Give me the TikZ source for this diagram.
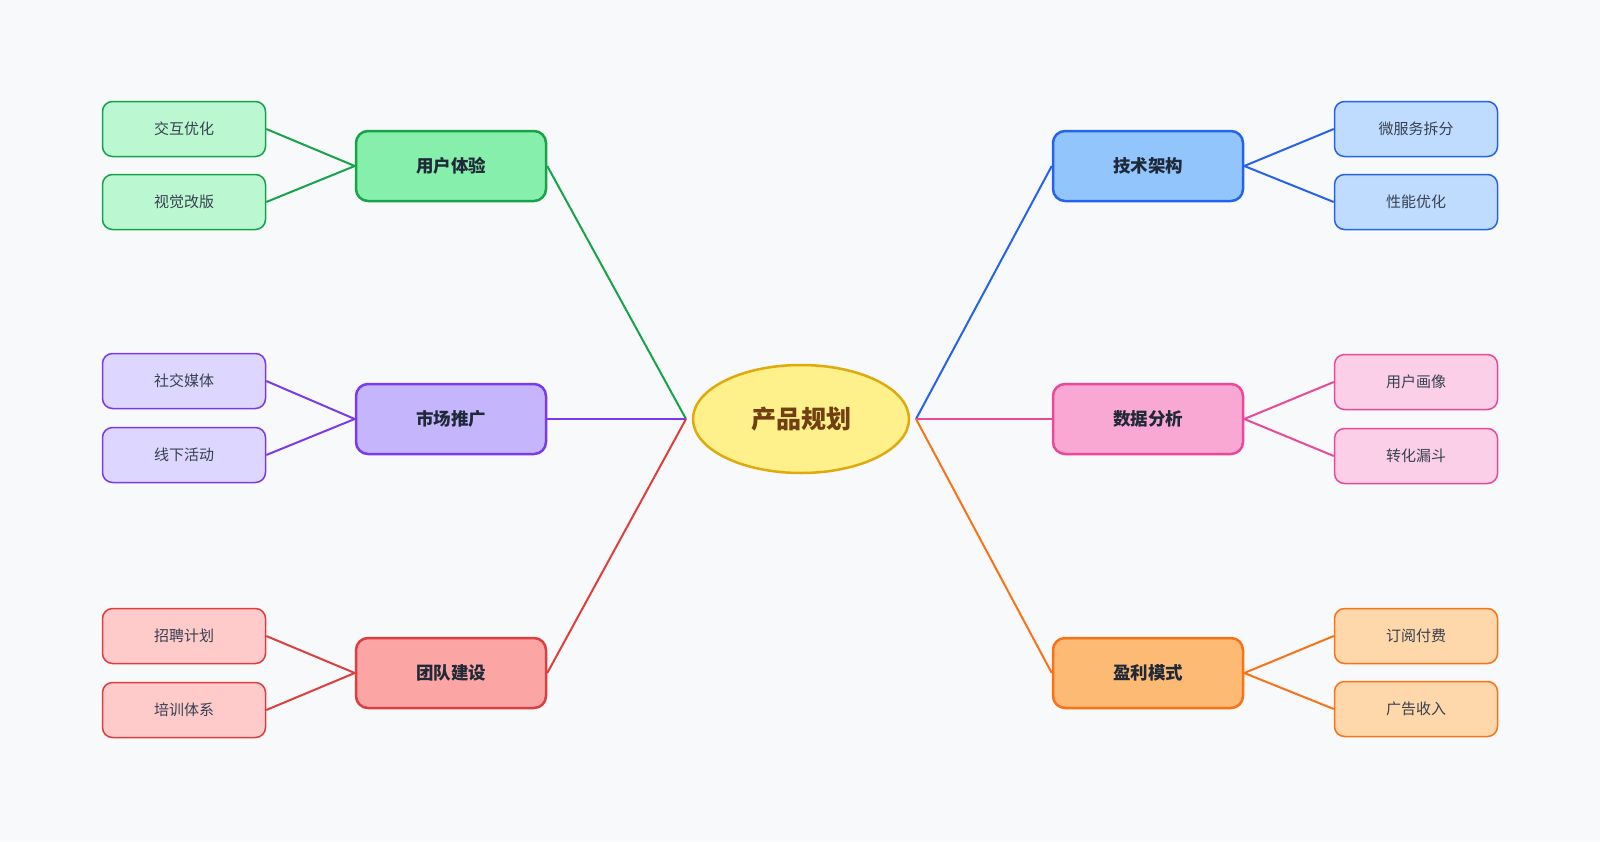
\documentclass[tikz,border=0pt]{standalone}
\usepackage{fontspec}
\setmainfont{Noto Sans CJK SC}
\usetikzlibrary{shapes.geometric}

\definecolor{bgcol}{HTML}{F8F9FA}
\definecolor{rootline}{HTML}{E0AA0C}
\definecolor{rootfill}{HTML}{FEF08A}
\definecolor{roottext}{HTML}{713F12}
\definecolor{topictext}{HTML}{1F2937}
\definecolor{leaftext}{HTML}{374151}
\definecolor{greenline}{HTML}{16A34A}
\definecolor{greenmain}{HTML}{86EFAC}
\definecolor{greenleaf}{HTML}{BBF7D0}
\definecolor{purpleline}{HTML}{7C3AED}
\definecolor{purplemain}{HTML}{C4B5FD}
\definecolor{purpleleaf}{HTML}{DDD6FE}
\definecolor{redline}{HTML}{E03E3E}
\definecolor{redmain}{HTML}{FCA5A5}
\definecolor{redleaf}{HTML}{FECACA}
\definecolor{blueline}{HTML}{2563EB}
\definecolor{bluemain}{HTML}{93C5FD}
\definecolor{blueleaf}{HTML}{BFDBFE}
\definecolor{pinkline}{HTML}{EC4899}
\definecolor{pinkmain}{HTML}{F9A8D4}
\definecolor{pinkleaf}{HTML}{FBCFE8}
\definecolor{orangeline}{HTML}{F97316}
\definecolor{orangemain}{HTML}{FDBA74}
\definecolor{orangeleaf}{HTML}{FED7AA}

\tikzset{
  rootnode/.style={ellipse, draw=rootline, fill=rootfill, line width=2.5pt,
    minimum width=216pt, minimum height=108pt, inner sep=0pt, outer xsep=7pt,
    text=roottext, font=\fontsize{25}{30}\selectfont\bfseries},
  topic/.style={rectangle, rounded corners=12pt, line width=2.5pt,
    minimum width=190pt, minimum height=70pt, inner sep=0pt,
    text=topictext, font=\fontsize{17.5}{21}\selectfont\bfseries},
  leaf/.style={rectangle, rounded corners=10pt, line width=1.5pt,
    minimum width=163pt, minimum height=55pt, inner sep=0pt,
    text=leaftext, font=\fontsize{15}{18}\selectfont},
  link/.style={line width=2pt},
}

\begin{document}
\begin{tikzpicture}[x=1pt, y=-1pt]
        % Background and page size
        \fill[bgcol] (0, 0) rectangle (1600, 841);
        \useasboundingbox (0, 0) rectangle (1600, 841);

        % Draw the centre
        \node[rootnode] (root) at (801, 419) {产品规划};

        % Draw the main topics
        \node[topic, draw=greenline, fill=greenmain] (ux) at (451, 166) {用户体验};
        \node[topic, draw=purpleline, fill=purplemain] (market) at (451, 419) {市场推广};
        \node[topic, draw=redline, fill=redmain] (team) at (451, 673) {团队建设};
        \node[topic, draw=blueline, fill=bluemain] (tech) at (1148, 166) {技术架构};
        \node[topic, draw=pinkline, fill=pinkmain] (data) at (1148, 419) {数据分析};
        \node[topic, draw=orangeline, fill=orangemain] (profit) at (1148, 673) {盈利模式};

        % Draw the leaves on the left
        \node[leaf, draw=greenline, fill=greenleaf] (ux1) at (184, 129) {交互优化};
        \node[leaf, draw=greenline, fill=greenleaf] (ux2) at (184, 202) {视觉改版};
        \node[leaf, draw=purpleline, fill=purpleleaf] (market1) at (184, 381) {社交媒体};
        \node[leaf, draw=purpleline, fill=purpleleaf] (market2) at (184, 455) {线下活动};
        \node[leaf, draw=redline, fill=redleaf] (team1) at (184, 636) {招聘计划};
        \node[leaf, draw=redline, fill=redleaf] (team2) at (184, 710) {培训体系};

        % Draw the leaves on the right
        \node[leaf, draw=blueline, fill=blueleaf] (tech1) at (1416, 129) {微服务拆分};
        \node[leaf, draw=blueline, fill=blueleaf] (tech2) at (1416, 202) {性能优化};
        \node[leaf, draw=pinkline, fill=pinkleaf] (data1) at (1416, 382) {用户画像};
        \node[leaf, draw=pinkline, fill=pinkleaf] (data2) at (1416, 456) {转化漏斗};
        \node[leaf, draw=orangeline, fill=orangeleaf] (profit1) at (1416, 636) {订阅付费};
        \node[leaf, draw=orangeline, fill=orangeleaf] (profit2) at (1416, 709) {广告收入};

        % Connect the centre to the topics
        \draw[link, greenline] (root.west) -- (ux.east);
        \draw[link, purpleline] (root.west) -- (market.east);
        \draw[link, redline] (root.west) -- (team.east);
        \draw[link, blueline] (root.east) -- (tech.west);
        \draw[link, pinkline] (root.east) -- (data.west);
        \draw[link, orangeline] (root.east) -- (profit.west);

        % Connect the topics to the leaves
        \draw[link, greenline] (ux1.east) -- (ux.west);
        \draw[link, greenline] (ux2.east) -- (ux.west);
        \draw[link, purpleline] (market1.east) -- (market.west);
        \draw[link, purpleline] (market2.east) -- (market.west);
        \draw[link, redline] (team1.east) -- (team.west);
        \draw[link, redline] (team2.east) -- (team.west);
        \draw[link, blueline] (tech.east) -- (tech1.west);
        \draw[link, blueline] (tech.east) -- (tech2.west);
        \draw[link, pinkline] (data.east) -- (data1.west);
        \draw[link, pinkline] (data.east) -- (data2.west);
        \draw[link, orangeline] (profit.east) -- (profit1.west);
        \draw[link, orangeline] (profit.east) -- (profit2.west);
    \end{tikzpicture}
\end{document}
